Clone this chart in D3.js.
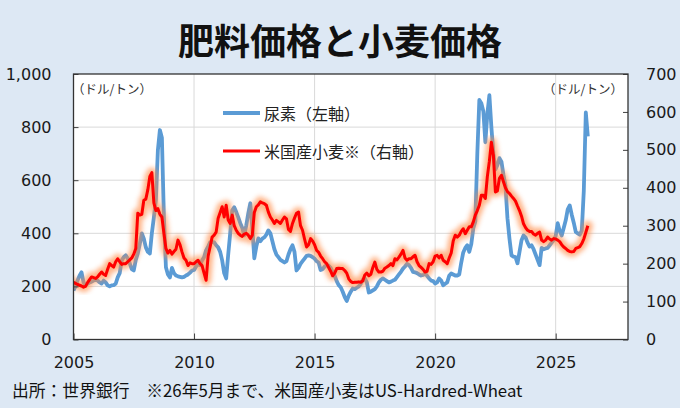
<!DOCTYPE html>
<html><head><meta charset="utf-8">
<script src="https://cdn.jsdelivr.net/npm/d3@7"></script>
<style>
html,body{margin:0;padding:0;background:#DDE8F4;}
svg{display:block;}
</style></head>
<body>
<svg id="c" width="680" height="408"></svg>
<script>
// ---- data (monthly, Jan 2005 – May 2026) ----
const startYear = 2005;
const ureaValues = [
 185,200,222,240,253,215,205,210,215,218,222,225,
 222,215,211,222,215,204,200,204,205,210,234,250,
 298,310,317,305,287,265,260,300,324,360,400,380,
 347,330,324,400,460,524,713,789,760,461,272,245,
 234,270,250,241,238,236,234,236,241,245,252,260,
 262,275,285,280,298,310,336,350,366,368,366,355,
 347,330,298,250,230,320,400,487,498,480,460,438,
 420,392,430,475,513,420,306,350,381,370,380,385,
 395,411,400,370,340,320,310,300,295,290,295,320,
 340,355,330,260,270,285,295,305,315,317,315,310,
 305,295,290,262,265,275,280,278,270,255,240,220,
 205,197,180,160,145,165,180,192,190,195,200,210,
 225,230,215,177,180,185,190,200,215,225,230,225,
 220,215,218,222,225,235,245,255,267,275,285,280,
 270,255,253,250,245,241,243,248,240,230,222,220,
 211,215,230,222,204,210,215,240,249,245,241,241,
 245,290,328,345,355,330,360,419,445,700,902,890,
 860,743,850,920,800,700,640,657,683,670,620,581,
 457,380,317,312,310,287,330,374,392,385,365,350,
 355,340,320,300,280,345,340,343,345,355,365,374,
 390,438,410,392,420,449,490,505,470,440,405,400,
 395,410,560,855,765
];
const wheatValues = [
 151,148,145,143,141,138,140,150,158,165,163,161,
 165,172,178,172,169,185,200,195,191,205,213,205,
 198,200,200,205,210,215,225,240,333,328,330,367,
 370,395,430,440,360,340,345,330,323,280,240,228,
 235,225,232,238,262,250,231,215,209,195,202,200,
 200,205,209,200,195,175,156,220,244,270,275,283,
 320,335,350,323,354,315,306,328,300,288,280,275,
 272,278,280,275,266,275,335,350,355,363,360,358,
 354,336,323,315,306,314,310,306,315,323,318,290,
 285,306,320,333,336,300,288,265,244,250,266,260,
 250,235,230,220,213,205,200,190,180,168,175,187,
 188,187,187,182,175,160,153,150,151,151,152,151,
 155,170,175,168,172,190,204,185,178,178,180,188,
 191,195,200,195,213,210,217,225,235,215,209,213,
 213,218,222,205,195,190,185,178,180,200,198,205,
 220,222,215,222,209,205,200,215,228,260,275,270,
 275,285,292,279,288,297,297,310,328,340,354,380,
 380,372,430,470,520,486,389,392,425,433,416,400,
 390,385,378,372,365,352,340,325,305,295,288,285,
 285,278,275,280,283,262,258,262,270,265,262,266,
 265,262,258,250,244,240,235,232,231,232,240,242,
 245,253,265,282,300
];
const xTicks = [2005, 2010, 2015, 2020, 2025];
const leftTicks = [0, 200, 400, 600, 800, 1000];
const rightTicks = [0, 100, 200, 300, 400, 500, 600, 700];
const titleText = "肥料価格と小麦価格";
const seriesNames = ["尿素（左軸）", "米国産小麦※（右軸）"];
const unitText = "（ドル/トン）";
const sourceText = "出所：世界銀行　※26年5月まで、米国産小麦はUS-Hardred-Wheat";

// ---- layout ----
const svg = d3.select("#c");
const L = 73.5, R = 628, T = 74, B = 339.5;
const x = d3.scaleLinear().domain([2005, 2028]).range([L, R]);
const yL = d3.scaleLinear().domain([0, 1000]).range([B, T]);
const yR = d3.scaleLinear().domain([0, 700]).range([B, T]);
const t = i => startYear + i / 12;

svg.append("rect").attr("width", 680).attr("height", 408).attr("fill", "#DDE8F4");

const defs = svg.append("defs");
defs.append("filter").attr("id", "glow").attr("x", "-5%").attr("y", "-5%")
  .attr("width", "110%").attr("height", "110%")
  .append("feGaussianBlur").attr("stdDeviation", 2.8);
defs.append("clipPath").attr("id", "clip").append("rect")
  .attr("x", L).attr("y", T).attr("width", R - L).attr("height", B - T);

// plot background
svg.append("rect").attr("x", L).attr("y", T).attr("width", R - L).attr("height", B - T).attr("fill", "#fff");

// gridlines
const g = svg.append("g");
g.selectAll(".hg").data(leftTicks.filter(d => d > 0 && d < 1000)).join("line")
  .attr("x1", L).attr("x2", R).attr("y1", d => yL(d)).attr("y2", d => yL(d))
  .attr("stroke", "#d9d9d9").attr("stroke-width", 1);
g.selectAll(".vg").data(xTicks.filter(d => d > 2005)).join("line")
  .attr("x1", d => x(d)).attr("x2", d => x(d)).attr("y1", T).attr("y2", B)
  .attr("stroke", "#d9d9d9").attr("stroke-width", 1);

// lines
const plot = svg.append("g").attr("clip-path", "url(#clip)");
const lineU = d3.line().x((d, i) => x(t(i))).y(d => yL(d)).curve(d3.curveLinear);
const lineW = d3.line().x((d, i) => x(t(i))).y(d => yR(d)).curve(d3.curveLinear);
plot.append("path").datum(ureaValues).attr("d", lineU)
  .attr("fill", "none").attr("stroke", "#5B9BD5").attr("stroke-width", 3.8)
  .attr("stroke-linejoin", "round");
plot.append("path").datum(wheatValues).attr("d", lineW)
  .attr("fill", "none").attr("stroke", "#FF8A45").attr("stroke-width", 10).attr("opacity", 0.65)
  .attr("stroke-linejoin", "round").attr("stroke-linecap", "round").attr("filter", "url(#glow)");
plot.append("path").datum(wheatValues).attr("d", lineW)
  .attr("fill", "none").attr("stroke", "#FF0000").attr("stroke-width", 3)
  .attr("stroke-linejoin", "round");

// axes (inner ticks)
const axB = d3.axisBottom(x).tickValues(xTicks).tickSize(-6).tickFormat(d3.format("d")).tickPadding(17);
const axL = d3.axisLeft(yL).tickValues(leftTicks).tickSize(-5).tickFormat(d3.format(",")).tickPadding(22);
const axR = d3.axisRight(yR).tickValues(rightTicks).tickSize(-5).tickFormat(d3.format("d")).tickPadding(18);
function styleAxis(sel) {
  sel.select(".domain").remove();
  sel.selectAll("line").attr("stroke", "#404040");
  sel.selectAll("text").attr("font-family", "DejaVu Sans, Verdana, sans-serif")
    .attr("font-size", 16).attr("fill", "#1a1a1a");
}
svg.append("g").attr("transform", `translate(0,${B})`).call(axB).call(styleAxis);
svg.append("g").attr("transform", `translate(${L},0)`).call(axL).call(styleAxis);
svg.append("g").attr("transform", `translate(${R},0)`).call(axR).call(styleAxis);

// border
svg.append("rect").attr("x", L).attr("y", T).attr("width", R - L).attr("height", B - T)
  .attr("fill", "none").attr("stroke", "#333").attr("stroke-width", 1.3);

const jp = "'Noto Sans CJK JP', 'Noto Sans', sans-serif";

// title
svg.append("text").attr("x", 340).attr("y", 39).attr("text-anchor", "middle")
  .attr("dominant-baseline", "central").attr("font-family", jp).attr("font-weight", "bold")
  .attr("font-size", 36).attr("fill", "#111").text(titleText);

// units
svg.append("text").attr("x", 72).attr("y", 88).attr("dominant-baseline", "central")
  .attr("font-family", jp).attr("font-size", 12.5).attr("fill", "#333").text(unitText);
svg.append("text").attr("x", 623).attr("y", 88).attr("text-anchor", "end").attr("dominant-baseline", "central")
  .attr("font-family", jp).attr("font-size", 12.5).attr("fill", "#333").text(unitText);

// legend
const legY = [113, 151];
const legColors = ["#5B9BD5", "#FF0000"];
const legW = [4, 3];
const leg = svg.append("g");
seriesNames.forEach((n, k) => {
  leg.append("line").attr("x1", 223).attr("x2", 260).attr("y1", legY[k]).attr("y2", legY[k])
    .attr("stroke", legColors[k]).attr("stroke-width", legW[k]);
  leg.append("text").attr("x", 264).attr("y", legY[k]).attr("dominant-baseline", "central")
    .attr("font-family", jp).attr("font-size", 16).attr("fill", "#222").text(n);
});

// source
svg.append("text").attr("x", 12).attr("y", 390).attr("dominant-baseline", "central")
  .attr("font-family", jp).attr("font-size", 16.8).attr("fill", "#111").text(sourceText);
</script>
</body></html>
